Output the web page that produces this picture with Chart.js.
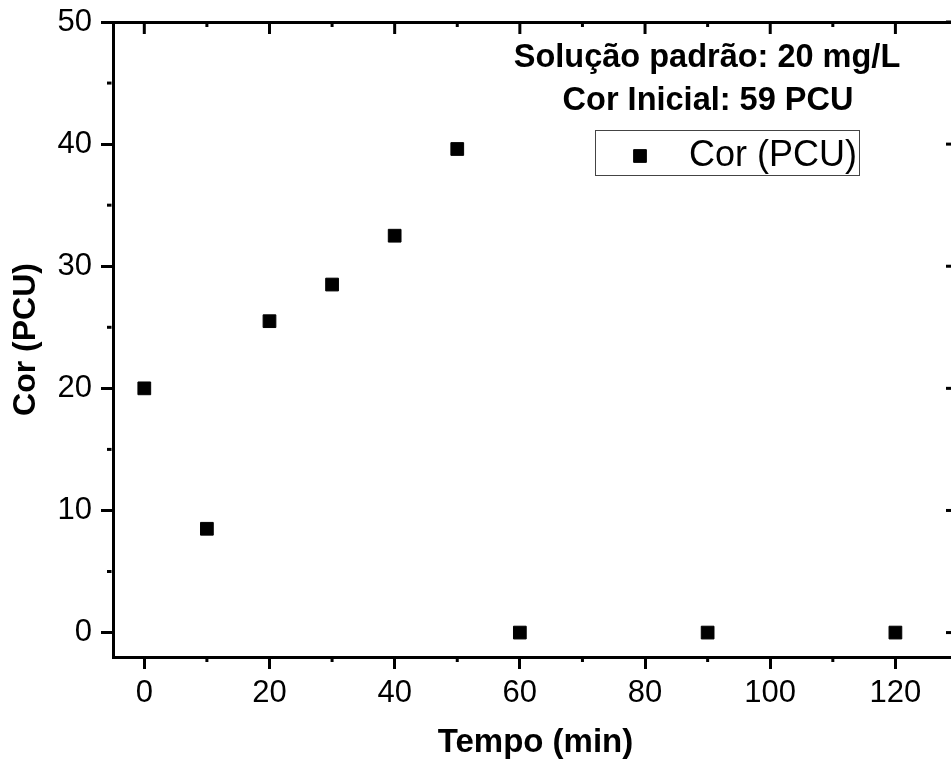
<!DOCTYPE html>
<html><head><meta charset="utf-8">
<script src="https://cdn.jsdelivr.net/npm/chart.js@4/dist/chart.umd.min.js"></script>
<style>
html,body{margin:0;padding:0;background:#fff;overflow:hidden;width:951px;height:762px}
#wrap{position:absolute;left:0;top:0;width:970px;height:762px}
</style>
</head><body>
<div id="wrap"><canvas id="c" width="970" height="762"></canvas></div>
<script>
// ---- data ----
const tempo = [0, 10, 20, 30, 40, 50, 60, 90, 120];
const cor = [20, 8.5, 25.5, 28.5, 32.5, 39.6, 0, 0, 0];
const seriesLabel = 'Cor (PCU)';
const xTitle = 'Tempo (min)';
const yTitle = 'Cor (PCU)';
const notes = ['Solução padrão: 20 mg/L', 'Cor Inicial: 59 PCU'];
const xRange = [-5, 130];
const yRange = [-2, 50];
const xMajor = 20;
const yMajor = 10;

const FONT = "'Liberation Sans', Arial, sans-serif";

const frameTicks = {
  id: 'frameTicks',
  afterDraw(chart) {
    const ctx = chart.ctx, ca = chart.chartArea;
    const xs = chart.scales.x, ys = chart.scales.y;
    ctx.save();
    ctx.strokeStyle = '#000';
    ctx.lineCap = 'butt';
    const line = (x1, y1, x2, y2, w) => { ctx.lineWidth = w; ctx.beginPath(); ctx.moveTo(x1, y1); ctx.lineTo(x2, y2); ctx.stroke(); };
    for (let v = Math.ceil(xRange[0] / (xMajor / 2)) * (xMajor / 2); v <= xRange[1]; v += xMajor / 2) {
      const px = xs.getPixelForValue(v);
      const major = Math.abs(v % xMajor) < 1e-9;
      if (!major) line(px, ca.bottom + 1.5, px, ca.bottom + 5, 3);
      line(px, ca.top + 1.5, px, ca.top + (major ? 12 : 5), 3);
    }
    for (let v = Math.ceil(yRange[0] / (yMajor / 2)) * (yMajor / 2); v <= yRange[1]; v += yMajor / 2) {
      const py = ys.getPixelForValue(v);
      const major = Math.abs(v % yMajor) < 1e-9;
      if (!major) line(ca.left - 1.5, py, ca.left - 6, py, 3);
      line(ca.right - 1.5, py, ca.right - (major ? 12 : 5), py, 3);
    }
    ctx.restore();
  }
};

const notesAndLegend = {
  id: 'notesAndLegend',
  afterDraw(chart) {
    const ctx = chart.ctx;
    ctx.save();
    ctx.fillStyle = '#000';
    ctx.textAlign = 'center';
    ctx.textBaseline = 'middle';
    ctx.font = 'bold 32.5px ' + FONT;
    ctx.fillText(notes[0], 707, 58);
    ctx.fillText(notes[1], 708, 101);
    ctx.strokeStyle = '#444';
    ctx.lineWidth = 1;
    ctx.strokeRect(595.5, 130.5, 264, 45);
    const ds = chart.data.datasets[0];
    ctx.fillStyle = ds.backgroundColor;
    ctx.strokeStyle = ds.borderColor;
    Chart.helpers.drawPoint(ctx, {
      pointStyle: ds.pointStyle, radius: ds.pointRadius, borderWidth: ds.borderWidth, rotation: 0
    }, 640, 156);
    ctx.fillStyle = '#000';
    ctx.textAlign = 'left';
    ctx.font = '36px ' + FONT;
    ctx.fillText(ds.label, 689, 156);
    ctx.restore();
  }
};

new Chart(document.getElementById('c'), {
  type: 'scatter',
  data: {
    datasets: [{
      label: seriesLabel,
      data: tempo.map((t, i) => ({ x: t, y: cor[i] })),
      pointStyle: 'rect',
      pointRadius: 9,
      pointHoverRadius: 9,
      backgroundColor: '#000',
      borderColor: '#000',
      borderWidth: 1,
      showLine: false
    }]
  },
  options: {
    responsive: false,
    animation: false,
    devicePixelRatio: 1,
    layout: { padding: 0 },
    plugins: { legend: { display: false }, tooltip: { enabled: false } },
    scales: {
      x: {
        type: 'linear', position: 'bottom', min: xRange[0], max: xRange[1],
        afterFit(s) { s.height = 105; s.paddingLeft = 0; s.paddingRight = 0; },
        border: { display: true, color: '#000', width: 3 },
        grid: { display: true, drawOnChartArea: false, drawTicks: true, tickLength: 12, tickWidth: 3, tickColor: '#000' },
        ticks: { stepSize: xMajor, includeBounds: false, color: '#000', padding: 6, font: { family: FONT, size: 31 } },
        title: { display: true, text: xTitle, color: '#000', font: { family: FONT, size: 33, weight: 'bold', lineHeight: 1 }, padding: { top: 0, bottom: 3 } }
      },
      y: {
        type: 'linear', position: 'left', min: yRange[0], max: yRange[1],
        afterFit(s) { s.width = 113; s.paddingTop = 0; s.paddingBottom = 0; },
        border: { display: true, color: '#000', width: 3 },
        grid: { display: true, drawOnChartArea: false, drawTicks: true, tickLength: 12, tickWidth: 3, tickColor: '#000' },
        ticks: { stepSize: yMajor, includeBounds: false, color: '#000', padding: 9, font: { family: FONT, size: 31 } },
        title: { display: true, text: yTitle, color: '#000', font: { family: FONT, size: 32, weight: 'bold', lineHeight: 1 }, padding: { top: 10, bottom: 0 } }
      },
      x2: {
        type: 'linear', position: 'top', min: xRange[0], max: xRange[1],
        afterFit(s) { s.height = 22; s.paddingLeft = 0; s.paddingRight = 0; },
        border: { display: true, color: '#000', width: 3 },
        grid: { display: false },
        ticks: { display: false }
      },
      y2: {
        type: 'linear', position: 'right', min: yRange[0], max: yRange[1],
        afterFit(s) { s.width = 12; s.paddingTop = 0; s.paddingBottom = 0; },
        border: { display: true, color: '#000', width: 3 },
        grid: { display: false },
        ticks: { display: false }
      }
    }
  },
  plugins: [frameTicks, notesAndLegend]
});
</script>
</body></html>
